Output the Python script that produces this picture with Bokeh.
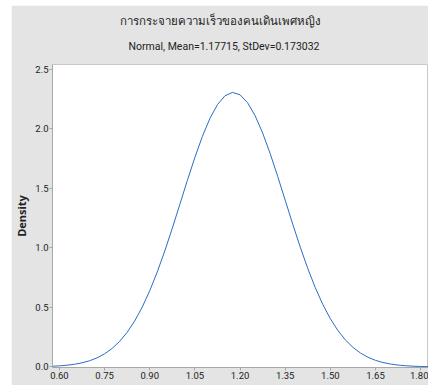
from bokeh.plotting import figure
from bokeh.models import Title, Range1d, FixedTicker, CustomJSTickFormatter
from bokeh.embed import file_html
from bokeh.resources import INLINE

title_text = "การกระจายความเร็วของคนเดินเพศหญิง"
subtitle_text = "Normal, Mean=1.17715, StDev=0.173032"
y_label = "Density"

x_ticks = [0.60, 0.75, 0.90, 1.05, 1.20, 1.35, 1.50, 1.65, 1.80]
y_ticks = [0.0, 0.5, 1.0, 1.5, 2.0, 2.5]

speed = [0.575, 0.600, 0.625, 0.650, 0.675, 0.700, 0.725, 0.750, 0.775, 0.800,
         0.825, 0.850, 0.875, 0.900, 0.925, 0.950, 0.975, 1.000, 1.025, 1.050,
         1.075, 1.100, 1.125, 1.150, 1.175, 1.200, 1.225, 1.250, 1.275, 1.300,
         1.325, 1.350, 1.375, 1.400, 1.425, 1.450, 1.475, 1.500, 1.525, 1.550,
         1.575, 1.600, 1.625, 1.650, 1.675, 1.700, 1.725, 1.750, 1.775, 1.800,
         1.825]
density = [0.0054, 0.0088, 0.0142, 0.0222, 0.0342, 0.0515, 0.0759, 0.1095, 0.1549, 0.2144,
           0.2906, 0.3860, 0.5020, 0.6393, 0.7973, 0.9740, 1.1651, 1.3652, 1.5663, 1.7601,
           1.9369, 2.0875, 2.2032, 2.2774, 2.3054, 2.2856, 2.2191, 2.1100, 1.9649, 1.7921,
           1.6004, 1.3999, 1.1992, 1.0060, 0.8266, 0.6650, 0.5240, 0.4044, 0.3056, 0.2263,
           0.1640, 0.1164, 0.0809, 0.0551, 0.0367, 0.0240, 0.0153, 0.0096, 0.0059, 0.0035,
           0.0021]

font = "Roboto"
gray = "#e4e4e4"

p = figure(width=417, height=380, output_backend="svg", toolbar_location=None,
           x_range=Range1d(0.577, 1.826), y_range=Range1d(-0.005, 2.54),
           min_border_left=38, min_border_right=0, min_border_top=0, min_border_bottom=18)
p.styles = {"margin-left": "11px", "margin-top": "5px"}

p.line(speed, density, line_color="#2a6cc6", line_width=1)

p.border_fill_color = gray
p.background_fill_color = "white"
p.outline_line_color = "#c8c8c8"
p.grid.visible = False

p.xaxis.ticker = FixedTicker(ticks=x_ticks)
p.yaxis.ticker = FixedTicker(ticks=y_ticks)
p.xaxis.formatter = CustomJSTickFormatter(code="return tick.toFixed(2);")
p.yaxis.formatter = CustomJSTickFormatter(code="return tick.toFixed(1);")

for ax in (p.xaxis, p.yaxis):
    ax.axis_line_color = "#a8a8a8"
    ax.major_tick_line_color = "#a8a8a8"
    ax.minor_tick_line_color = None
    ax.major_tick_out = 3
    ax.major_tick_in = 0
    ax.major_label_text_font = font
    ax.major_label_text_font_size = "9.5px"
    ax.major_label_text_color = "#222222"
    ax.major_label_standoff = 1

p.yaxis.axis_label = y_label
p.yaxis.axis_label_text_font = "Open Sans"
p.yaxis.axis_label_text_font_style = "bold"
p.yaxis.axis_label_text_font_size = "11px"
p.yaxis.axis_label_text_color = "#222222"
p.yaxis.axis_label_standoff = 3

# spacer between subtitle and plot frame
p.add_layout(Title(text=" ", align="left", text_font=font, standoff=0,
                   text_font_size="5px", text_color=gray), "above")
p.add_layout(Title(text=subtitle_text, align="left", offset=76, standoff=7, text_font=font,
                   text_font_size="10.5px", text_font_style="normal",
                   text_color="#222222"), "above")
p.add_layout(Title(text=title_text, align="left", offset=67, standoff=13, text_font=font,
                   text_font_size="11.5px", text_font_style="normal",
                   text_color="#222222"), "above")

open("out.html", "w").write(file_html(p, INLINE))
